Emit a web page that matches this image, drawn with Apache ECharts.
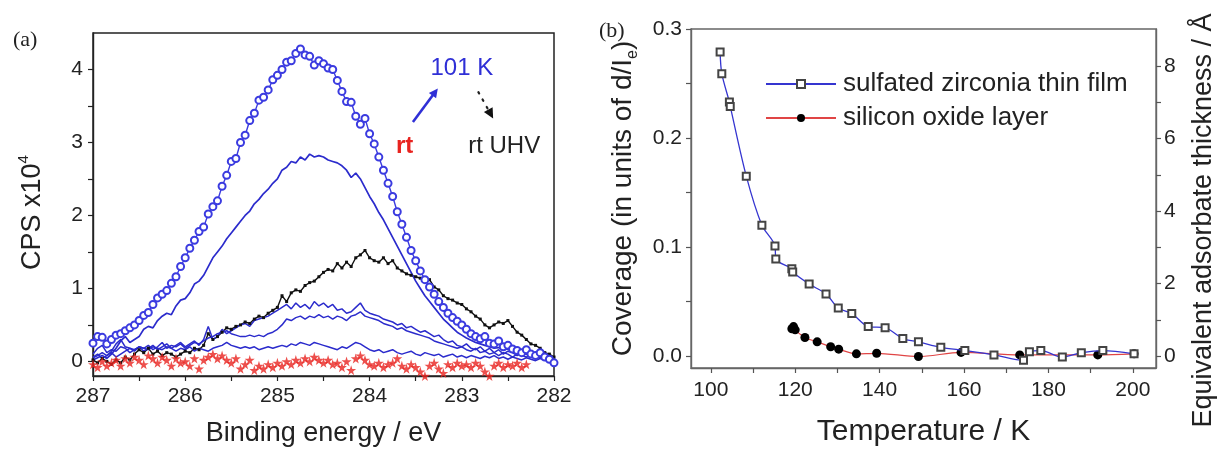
<!DOCTYPE html>
<html>
<head>
<meta charset="utf-8">
<script src="https://cdn.jsdelivr.net/npm/echarts@6/dist/echarts.min.js"></script>
<style>
  html, body { margin: 0; padding: 0; background: #fff; }
  #chart { width: 1218px; height: 452px; }
</style>
</head>
<body>
<div id="chart"></div>
<script>
// ---------- (a) C 1s spectra: binding energy grid (eV) ----------
const energy = [
  287.00, 286.95, 286.90, 286.85, 286.80, 286.75, 286.70, 286.65, 286.60, 286.55,
  286.50, 286.45, 286.40, 286.35, 286.30, 286.25, 286.20, 286.15, 286.10, 286.05,
  286.00, 285.95, 285.90, 285.85, 285.80, 285.75, 285.70, 285.65, 285.60, 285.55,
  285.50, 285.45, 285.40, 285.35, 285.30, 285.25, 285.20, 285.15, 285.10, 285.05,
  285.00, 284.95, 284.90, 284.85, 284.80, 284.75, 284.70, 284.65, 284.60, 284.55,
  284.50, 284.45, 284.40, 284.35, 284.30, 284.25, 284.20, 284.15, 284.10, 284.05,
  284.00, 283.95, 283.90, 283.85, 283.80, 283.75, 283.70, 283.65, 283.60, 283.55,
  283.50, 283.45, 283.40, 283.35, 283.30, 283.25, 283.20, 283.15, 283.10, 283.05,
  283.00, 282.95, 282.90, 282.85, 282.80, 282.75, 282.70, 282.65, 282.60, 282.55,
  282.50, 282.45, 282.40, 282.35, 282.30, 282.25, 282.20, 282.15, 282.10, 282.05,
  282.00
];

// counts per second (x10^4) for each spectrum
const cps101K = [
  0.25, 0.34, 0.33, 0.24, 0.30, 0.36, 0.38, 0.42, 0.46, 0.50,
  0.56, 0.63, 0.67, 0.78, 0.87, 0.92, 0.97, 1.07, 1.16, 1.30,
  1.42, 1.55, 1.66, 1.78, 1.84, 2.02, 2.12, 2.20, 2.40, 2.55,
  2.74, 2.78, 3.00, 3.10, 3.30, 3.40, 3.58, 3.62, 3.72, 3.86,
  3.92, 4.00, 4.10, 4.12, 4.22, 4.28, 4.20, 4.18, 4.06, 4.12,
  4.08, 4.02, 4.00, 3.85, 3.70, 3.56, 3.55, 3.36, 3.25, 3.33,
  3.12, 2.98, 2.80, 2.62, 2.44, 2.26, 2.05, 1.88, 1.70, 1.52,
  1.38, 1.24, 1.12, 1.02, 0.92, 0.82, 0.74, 0.66, 0.60, 0.55,
  0.50, 0.44, 0.38, 0.34, 0.31, 0.34, 0.25, 0.24, 0.28, 0.20,
  0.22, 0.17, 0.15, 0.12, 0.16, 0.10, 0.08, 0.12, 0.06, 0.03,
  -0.02
];
const cpsStep1 = [
  0.02, 0.05, 0.08, 0.04, 0.10, 0.18, 0.28, 0.34, 0.26, 0.30,
  0.34, 0.44, 0.48, 0.46, 0.56, 0.62, 0.66, 0.64, 0.76, 0.84,
  0.86, 0.94, 1.06, 1.10, 1.18, 1.30, 1.42, 1.50, 1.58, 1.68,
  1.76, 1.84, 1.92, 2.00, 2.06, 2.16, 2.22, 2.30, 2.36, 2.44,
  2.50, 2.62, 2.66, 2.74, 2.72, 2.80, 2.76, 2.84, 2.80, 2.82,
  2.80, 2.76, 2.74, 2.72, 2.68, 2.62, 2.52, 2.58, 2.50, 2.38,
  2.26, 2.16, 2.04, 1.94, 1.82, 1.70, 1.58, 1.46, 1.34, 1.22,
  1.10, 1.00, 0.90, 0.82, 0.74, 0.66, 0.58, 0.52, 0.46, 0.40,
  0.36, 0.32, 0.29, 0.26, 0.24, 0.22, 0.20, 0.18, 0.19, 0.16,
  0.17, 0.14, 0.15, 0.12, 0.10, 0.12, 0.08, 0.07, 0.04, 0.00,
  -0.06
];
const cpsStep2 = [
  0.10, 0.18, 0.22, 0.12, 0.16, 0.14, 0.20, 0.18, 0.12, 0.16,
  0.20, 0.14, 0.18, 0.22, 0.16, 0.20, 0.24, 0.18, 0.22, 0.26,
  0.20, 0.24, 0.28, 0.22, 0.30, 0.48, 0.30, 0.34, 0.44, 0.38,
  0.42, 0.46, 0.50, 0.52, 0.48, 0.56, 0.58, 0.60, 0.62, 0.66,
  0.70, 0.74, 0.78, 0.72, 0.80, 0.74, 0.78, 0.72, 0.82, 0.76,
  0.80, 0.74, 0.78, 0.70, 0.72, 0.66, 0.68, 0.74, 0.80, 0.70,
  0.66, 0.64, 0.62, 0.58, 0.56, 0.54, 0.50, 0.52, 0.46, 0.48,
  0.44, 0.40, 0.42, 0.38, 0.34, 0.36, 0.30, 0.26, 0.28, 0.22,
  0.20, 0.24, 0.18, 0.16, 0.20, 0.14, 0.18, 0.12, 0.16, 0.10,
  0.14, 0.12, 0.08, 0.12, 0.10, 0.06, 0.10, 0.08, 0.04, 0.06,
  0.02
];
const cpsStep3 = [
  0.05, 0.08, 0.12, 0.08, 0.14, 0.24, 0.30, 0.20, 0.18, 0.14,
  0.20, 0.18, 0.22, 0.16, 0.20, 0.26, 0.18, 0.22, 0.20, 0.24,
  0.18, 0.22, 0.26, 0.24, 0.28, 0.32, 0.34, 0.38, 0.40, 0.42,
  0.38, 0.36, 0.34, 0.34, 0.36, 0.34, 0.36, 0.34, 0.38, 0.40,
  0.44, 0.50, 0.58, 0.56, 0.60, 0.62, 0.58, 0.62, 0.60, 0.64,
  0.60, 0.62, 0.58, 0.62, 0.60, 0.56, 0.62, 0.64, 0.68, 0.62,
  0.60, 0.58, 0.56, 0.52, 0.50, 0.48, 0.44, 0.46, 0.42, 0.40,
  0.38, 0.36, 0.34, 0.32, 0.28, 0.26, 0.24, 0.22, 0.20, 0.18,
  0.20, 0.16, 0.14, 0.18, 0.12, 0.14, 0.10, 0.12, 0.08, 0.12,
  0.10, 0.06, 0.10, 0.08, 0.06, 0.08, 0.04, 0.06, 0.02, 0.04,
  0.00
];
const cpsStep4 = [
  0.06, 0.10, 0.04, 0.08, 0.12, 0.06, 0.10, 0.14, 0.18, 0.16,
  0.20, 0.18, 0.16, 0.20, 0.18, 0.16, 0.20, 0.18, 0.14, 0.18,
  0.16, 0.20, 0.14, 0.18, 0.16, 0.14, 0.18, 0.20, 0.22, 0.26,
  0.22, 0.20, 0.18, 0.20, 0.18, 0.20, 0.16, 0.18, 0.20, 0.18,
  0.20, 0.22, 0.20, 0.24, 0.22, 0.26, 0.24, 0.22, 0.26, 0.24,
  0.22, 0.20, 0.18, 0.16, 0.20, 0.18, 0.22, 0.26, 0.24, 0.20,
  0.16, 0.14, 0.16, 0.12, 0.14, 0.16, 0.12, 0.10, 0.12, 0.14,
  0.10, 0.08, 0.12, 0.10, 0.08, 0.10, 0.06, 0.08, 0.10, 0.06,
  0.08, 0.05, 0.08, 0.06, 0.04, 0.07, 0.05, 0.08, 0.04, 0.06,
  0.03, 0.06, 0.04, 0.02, 0.05, 0.03, 0.01, 0.04, 0.02, 0.00,
  0.02
];
const cpsRtUHV = [
  0.02, -0.02, 0.04, 0.00, -0.04, 0.02, -0.02, 0.06, 0.02, 0.10,
  0.16, 0.12, 0.18, 0.10, 0.14, 0.08, 0.12, 0.10, 0.06, 0.10,
  0.14, 0.12, 0.18, 0.16, 0.22, 0.38, 0.30, 0.34, 0.40, 0.46,
  0.44, 0.48, 0.50, 0.54, 0.52, 0.58, 0.62, 0.60, 0.66, 0.70,
  0.74, 0.90, 0.82, 0.94, 0.98, 0.96, 1.04, 1.08, 1.10, 1.16,
  1.22, 1.26, 1.24, 1.34, 1.28, 1.36, 1.30, 1.42, 1.46, 1.52,
  1.42, 1.38, 1.36, 1.42, 1.34, 1.38, 1.28, 1.24, 1.20, 1.18,
  1.16, 1.14, 1.10, 1.12, 1.02, 0.98, 0.90, 0.86, 0.84, 0.80,
  0.78, 0.72, 0.68, 0.62, 0.58, 0.50, 0.46, 0.50, 0.54, 0.52,
  0.56, 0.48, 0.40, 0.36, 0.30, 0.24, 0.22, 0.18, 0.12, 0.10,
  0.06
];
const cpsRt = [
  -0.04, -0.08, 0.00, -0.06, -0.02, 0.02, -0.06, 0.04, -0.02, 0.06,
  0.02, -0.04, 0.08, 0.04, -0.02, 0.06, 0.02, -0.06, 0.04, -0.02,
  0.00, -0.06, 0.04, -0.10, 0.02, 0.06, 0.10, 0.04, 0.08, 0.02,
  -0.02, 0.04, -0.10, -0.04, 0.02, -0.12, -0.06, -0.10, -0.04, -0.08,
  -0.02, -0.06, 0.00, -0.04, 0.02, -0.02, 0.04, 0.00, 0.06, 0.02,
  -0.02, 0.02, -0.04, -0.02, -0.08, 0.00, -0.12, 0.04, 0.08, 0.02,
  -0.04, -0.06, -0.02, -0.08, -0.04, -0.02, 0.04, -0.06, -0.10, -0.04,
  -0.08, -0.14, -0.20, -0.06, -0.02, -0.10, -0.16, -0.04, -0.08, -0.02,
  -0.06, -0.04, -0.08, -0.02, -0.06, -0.14, -0.20, -0.06, -0.02, -0.08,
  -0.04, -0.06, -0.02, -0.08, -0.04, null, null, null, null, null,
  null
];

// ---------- (b) coverage versus temperature ----------
const zirconiaT = [102.2, 102.6, 104.4, 104.6, 108.4, 112.1, 115.2, 115.4, 119.2, 119.4,
  123.3, 127.3, 130.2, 133.4, 137.3, 141.3, 145.5, 149.2, 154.5, 160.2,
  167.1, 174.1, 175.5, 178.2, 183.3, 187.8, 192.9, 200.3];
const zirconiaCov = [0.279, 0.259, 0.233, 0.229, 0.165, 0.120, 0.101, 0.089, 0.080, 0.077,
  0.066, 0.057, 0.044, 0.039, 0.027, 0.026, 0.016, 0.013, 0.008, 0.005,
  0.001, -0.004, 0.004, 0.005, -0.001, 0.003, 0.005, 0.002];
const silicaT = [119.2, 119.6, 120.0, 122.3, 125.2, 128.4, 130.3, 134.5, 139.3, 149.2,
  159.3, 173.2, 191.7, 200.3];
const silicaCov = [0.025, 0.027, 0.024, 0.017, 0.013, 0.0085, 0.0063, 0.002, 0.0025, -0.0005,
  0.0033, 0.001, 0.001, 0.002];

// tick positions: labelled values and the unlabelled ones between them
const aXTicks = [287, 286, 285, 284, 283, 282];
const aXMinor = [286.5, 285.5, 284.5, 283.5, 282.5];
const aYTicks = [0, 1, 2, 3, 4];
const aYMinor = [0.5, 1.5, 2.5, 3.5];
const bXTicks = [100, 120, 140, 160, 180, 200];
const bXMinor = [110, 130, 150, 170, 190];
const bYTicks = [0, 0.1, 0.2, 0.3];
const bYMinor = [0.05, 0.15, 0.25];
const bRTicks = [0, 2, 4, 6, 8];
const bRMinor = [1, 3, 5, 7];

const FONT = "'Liberation Sans', Arial, sans-serif";
const TXT = '#222';
const BLUE = '#2b2bcc';

const pairs = (xs, ys) => xs.map((x, i) => [x, ys[i]]).filter(p => p[1] !== null);

function axis(extra, labels, minor, frame, tick, margin, formatter) {
  const label = { color: TXT, fontSize: 21, fontFamily: FONT, margin: margin, customValues: labels };
  if (formatter) label.formatter = formatter;
  return Object.assign({
    type: 'value',
    splitLine: { show: false },
    axisLine: { show: true, onZero: false, lineStyle: { color: frame, width: 1.4 } },
    axisTick: { show: true, inside: false, length: 5, customValues: labels.concat(minor),
      lineStyle: { color: tick, width: 1.2 } },
    axisLabel: label,
    nameTextStyle: { color: TXT, fontSize: 27, fontFamily: FONT }
  }, extra);
}

const chart = echarts.init(document.getElementById('chart'), null, { renderer: 'canvas' });

const option = {
  animation: false,
  backgroundColor: '#fff',
  grid: [
    { left: 93, top: 33, width: 461, height: 343, show: true, borderColor: '#222', borderWidth: 1.5 },
    { left: 691, top: 29, width: 465, height: 345, show: true, borderColor: '#666', borderWidth: 1.3 }
  ],
  xAxis: [
    axis({ gridIndex: 0, min: 282, max: 287, inverse: true, position: 'bottom',
      name: 'Binding energy / eV', nameLocation: 'middle', nameGap: 44 },
      aXTicks, aXMinor, '#222', '#222', 10),
    axis({ gridIndex: 1, min: 95.3, max: 205.5, position: 'bottom',
      name: 'Temperature / K', nameLocation: 'middle', nameGap: 49,
      nameTextStyle: { color: TXT, fontSize: 30, fontFamily: FONT } },
      bXTicks, bXMinor, '#666', '#555', 12)
  ],
  yAxis: [
    axis({ gridIndex: 0, min: -0.2, max: 4.5, position: 'left',
      name: 'CPS x10{sup|4}', nameLocation: 'middle', nameGap: 43, nameRotate: 90,
      nameTextStyle: {
        color: TXT, fontSize: 27, fontFamily: FONT, lineHeight: 34, padding: [0, 16, 0, 0],
        rich: { sup: { fontSize: 15, fontFamily: FONT, color: TXT, verticalAlign: 'top', lineHeight: 16 } }
      } },
      aYTicks, aYMinor, '#222', '#222', 10),
    axis({ gridIndex: 1, min: -0.011, max: 0.3, position: 'left',
      name: 'Coverage (in units of d/I{sub|e})', nameLocation: 'middle', nameGap: 50, nameRotate: 90,
      nameTextStyle: {
        color: TXT, fontSize: 28, fontFamily: FONT, lineHeight: 36,
        rich: { sub: { fontSize: 16, fontFamily: FONT, color: TXT, verticalAlign: 'bottom', lineHeight: 16 } }
      } },
      bYTicks, bYMinor, '#666', '#555', 9, v => Number(v).toFixed(1)),
    axis({ gridIndex: 1, min: -0.011 * 30.07, max: 0.3 * 30.07, position: 'right',
      name: 'Equivalent adsorbate thickness / Å', nameLocation: 'middle', nameGap: 34, nameRotate: 90,
      nameTextStyle: { color: TXT, fontSize: 27, fontFamily: FONT, padding: [0, 44, 0, 0] } },
      bRTicks, bRMinor, '#666', '#555', 8)
  ],
  legend: {
    orient: 'vertical',
    left: 760,
    top: 66,
    itemWidth: 70,
    itemHeight: 10,
    itemGap: 8,
    data: ['sulfated zirconia thin film', 'silicon oxide layer'],
    textStyle: { color: TXT, fontSize: 26, fontFamily: FONT, padding: [0, 0, 0, 2] }
  },
  series: [
    { name: 'rt UHV', type: 'line', xAxisIndex: 0, yAxisIndex: 0, data: pairs(energy, cpsRtUHV),
      symbol: 'rect', symbolSize: 3, itemStyle: { color: '#111' },
      lineStyle: { color: '#111', width: 1.4 }, z: 3 },
    { name: 'step 4', type: 'line', xAxisIndex: 0, yAxisIndex: 0, data: pairs(energy, cpsStep4),
      showSymbol: false, lineStyle: { color: BLUE, width: 1.5 }, z: 3 },
    { name: 'step 3', type: 'line', xAxisIndex: 0, yAxisIndex: 0, data: pairs(energy, cpsStep3),
      showSymbol: false, lineStyle: { color: BLUE, width: 1.5 }, z: 3 },
    { name: 'step 2', type: 'line', xAxisIndex: 0, yAxisIndex: 0, data: pairs(energy, cpsStep2),
      showSymbol: false, lineStyle: { color: BLUE, width: 1.5 }, z: 3 },
    { name: 'step 1', type: 'line', xAxisIndex: 0, yAxisIndex: 0, data: pairs(energy, cpsStep1),
      showSymbol: false, lineStyle: { color: BLUE, width: 1.7 }, z: 3 },
    { name: '101 K', type: 'line', xAxisIndex: 0, yAxisIndex: 0, data: pairs(energy, cps101K),
      symbol: 'emptyCircle', symbolSize: 7, itemStyle: { color: '#3b3be0', borderWidth: 1.2 },
      lineStyle: { color: '#3b3be0', width: 1.4 }, z: 4 },
    { name: 'rt', type: 'scatter', xAxisIndex: 0, yAxisIndex: 0, data: pairs(energy, cpsRt),
      symbol: 'path://M50,0 L61,35 L98,35 L68,57 L79,91 L50,70 L21,91 L32,57 L2,35 L39,35 Z',
      symbolSize: 10, itemStyle: { color: '#e8231f' }, z: 5 },

    { name: 'silicon oxide layer', type: 'line', xAxisIndex: 1, yAxisIndex: 1,
      data: pairs(silicaT, silicaCov), smooth: 0.3,
      symbol: 'circle', symbolSize: 9, itemStyle: { color: '#000' },
      lineStyle: { color: '#e04545', width: 1.2 }, z: 3 },
    { name: 'sulfated zirconia thin film', type: 'line', xAxisIndex: 1, yAxisIndex: 1,
      data: pairs(zirconiaT, zirconiaCov), smooth: 0.3,
      symbol: 'emptyRect', symbolSize: 7, itemStyle: { color: '#444', borderWidth: 1.2 },
      lineStyle: { color: '#3535d0', width: 1.3 }, z: 4 }
  ]
};
chart.setOption(option);

// ---------- annotations in panel (a), placed in data coordinates ----------
const notes = {
  label101K: [283.0, 4.01],
  labelRt: [283.62, 2.94],
  labelRtUHV: [282.54, 2.94],
  blueFrom: [283.53, 3.28], blueTo: [283.26, 3.74],
  blackFrom: [282.82, 3.69], blackTo: [282.66, 3.33]
};
const px = p => chart.convertToPixel({ xAxisIndex: 0, yAxisIndex: 0 }, p);

function arrowHead(tip, from, len, half, color) {
  const dx = tip[0] - from[0], dy = tip[1] - from[1];
  const d = Math.hypot(dx, dy), ux = dx / d, uy = dy / d;
  const bx = tip[0] - ux * len, by = tip[1] - uy * len;
  return {
    type: 'polygon',
    shape: { points: [tip, [bx - uy * half, by + ux * half], [bx + uy * half, by - ux * half]] },
    style: { fill: color }, z: 20
  };
}
function shortened(tip, from, by) {
  const dx = tip[0] - from[0], dy = tip[1] - from[1];
  const d = Math.hypot(dx, dy);
  return [tip[0] - dx / d * by, tip[1] - dy / d * by];
}

const b0 = px(notes.blueFrom), b1 = px(notes.blueTo);
const k0 = px(notes.blackFrom), k1 = px(notes.blackTo);
const t101 = px(notes.label101K), tRt = px(notes.labelRt), tUHV = px(notes.labelRtUHV);
const bEnd = shortened(b1, b0, 6), kEnd = shortened(k1, k0, 8);

chart.setOption({
  graphic: [
    { type: 'text', left: 13, top: 29, style: { text: '(a)', font: "22px 'Liberation Serif', serif", fill: '#222' }, z: 20 },
    { type: 'text', left: 599, top: 20, style: { text: '(b)', font: "22px 'Liberation Serif', serif", fill: '#222' }, z: 20 },
    { type: 'text', x: t101[0], y: t101[1], style: { text: '101 K', font: "24px 'Liberation Sans', Arial", fill: '#2f2fd6', align: 'center', verticalAlign: 'middle' }, z: 20 },
    { type: 'text', x: tRt[0], y: tRt[1], style: { text: 'rt', font: "bold 24px 'Liberation Sans', Arial", fill: '#e8231f', align: 'center', verticalAlign: 'middle' }, z: 20 },
    { type: 'text', x: tUHV[0], y: tUHV[1], style: { text: 'rt UHV', font: "24px 'Liberation Sans', Arial", fill: '#222', align: 'center', verticalAlign: 'middle' }, z: 20 },
    { type: 'line', shape: { x1: b0[0], y1: b0[1], x2: bEnd[0], y2: bEnd[1] }, style: { stroke: '#2f2fd6', lineWidth: 2.6 }, z: 20 },
    arrowHead(b1, b0, 9, 4.5, '#2f2fd6'),
    { type: 'line', shape: { x1: k0[0], y1: k0[1], x2: kEnd[0], y2: kEnd[1] }, style: { stroke: '#222', lineWidth: 2.2, lineDash: [1.5, 7], lineCap: 'round' }, z: 20 },
    arrowHead(k1, k0, 10, 5, '#111')
  ]
});
</script>
</body>
</html>
